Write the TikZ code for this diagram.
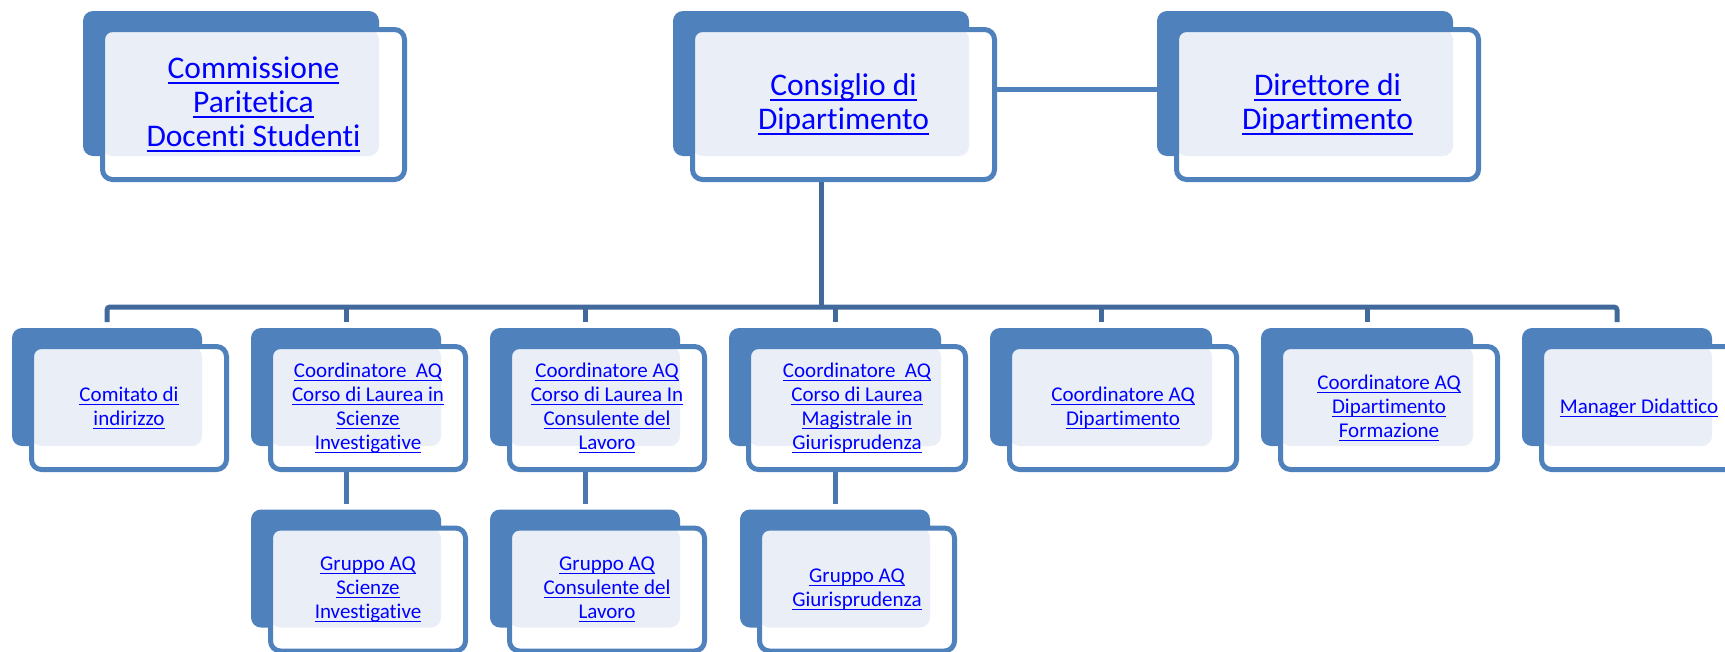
\documentclass[tikz,border=0pt]{standalone}
\usepackage{fontspec}
\setmainfont{Carlito}[Ligatures=NoCommon]
\usetikzlibrary{calc}
\usetikzlibrary{positioning}
\usetikzlibrary{backgrounds}
\definecolor{boxblue}{HTML}{4F81BD}
\definecolor{paleblue}{HTML}{EAEFF7}
\definecolor{busblue}{HTML}{41699B}
\definecolor{subblue}{HTML}{4A78AE}
\definecolor{linkblue}{HTML}{0000FF}
\newcommand{\lk}[1]{\setbox0\hbox{#1}\rlap{\rule[-0.16em]{\wd0}{0.06em}}\box0}
\tikzset{
 backbox/.style={fill=boxblue, rounded corners=10pt, inner sep=0pt, outer sep=0pt},
 frontbox/.style={below right=16pt and 17pt of #1.north west, draw=boxblue, line width=5pt,
   fill=white, rounded corners=10pt, inner sep=0pt, align=center, text=linkblue,
   path picture={\fill[paleblue, rounded corners=10pt] (path picture bounding box.north west) rectangle (#1.south east);}},
 toptext/.style={font=\fontsize{31.5}{34}\selectfont},
 subtext/.style={font=\fontsize{21}{24}\selectfont},
 bus/.style={draw=busblue, line width=5pt},
 sub/.style={draw=subblue, line width=5pt},
 link/.style={draw=boxblue, line width=5pt}
}
\begin{document}
\begin{tikzpicture}[x=1pt, y=-1pt]
\useasboundingbox (0,0) rectangle (1725,651);
% top row
\node[backbox, minimum width=296pt, minimum height=145pt] (comm) at (231,83.5) {};
\node[frontbox=comm, minimum width=302pt, minimum height=150pt, toptext] (comm-f)
  {\lk{Commissione}\\\lk{Paritetica}\\\lk{Docenti Studenti}};
\node[backbox, minimum width=296pt, minimum height=145pt] (cons) at (821,83.5) {};
\node[frontbox=cons, minimum width=302pt, minimum height=150pt, toptext] (cons-f)
  {\lk{Consiglio di}\\\lk{Dipartimento}};
\node[backbox, minimum width=296pt, minimum height=145pt] (dir) at (1305,83.5) {};
\node[frontbox=dir, minimum width=302pt, minimum height=150pt, toptext] (dir-f)
  {\lk{Direttore di}\\\lk{Dipartimento}};
% middle row
\node[backbox, minimum width=190pt, minimum height=118pt] (comit) at (107,387) {};
\node[frontbox=comit, minimum width=195pt, minimum height=123pt, subtext] (comit-f)
  {\lk{Comitato di}\\\lk{indirizzo}};
\node[backbox, minimum width=190pt, minimum height=118pt] (cscie) at (346,387) {};
\node[frontbox=cscie, minimum width=195pt, minimum height=123pt, subtext] (cscie-f)
  {\lk{Coordinatore~~AQ}\\\lk{Corso di Laurea in}\\\lk{Scienze}\\\lk{Investigative}};
\node[backbox, minimum width=190pt, minimum height=118pt] (ccons) at (585,387) {};
\node[frontbox=ccons, minimum width=195pt, minimum height=123pt, subtext] (ccons-f)
  {\lk{Coordinatore AQ}\\\lk{Corso di Laurea In}\\\lk{Consulente del}\\\lk{Lavoro}};
\node[backbox, minimum width=212pt, minimum height=118pt] (cgiur) at (835,387) {};
\node[frontbox=cgiur, minimum width=217pt, minimum height=123pt, subtext] (cgiur-f)
  {\lk{Coordinatore~~AQ}\\\lk{Corso di Laurea}\\\lk{Magistrale in}\\\lk{Giurisprudenza}};
\node[backbox, minimum width=222pt, minimum height=118pt] (cdip) at (1101,387) {};
\node[frontbox=cdip, minimum width=227pt, minimum height=123pt, subtext] (cdip-f)
  {\lk{Coordinatore AQ}\\\lk{Dipartimento}};
\node[backbox, minimum width=212pt, minimum height=118pt] (cform) at (1367,387) {};
\node[frontbox=cform, minimum width=217pt, minimum height=123pt, subtext] (cform-f)
  {\lk{Coordinatore AQ}\\\lk{Dipartimento}\\\lk{Formazione}};
\node[backbox, minimum width=190pt, minimum height=118pt] (manag) at (1617,387) {};
\node[frontbox=manag, minimum width=195pt, minimum height=123pt, subtext] (manag-f)
  {\lk{Manager Didattico}};
% bottom row
\node[backbox, minimum width=190pt, minimum height=118pt] (gscie) at (346,568.5) {};
\node[frontbox=gscie, minimum width=195pt, minimum height=123pt, subtext] (gscie-f)
  {\lk{Gruppo AQ}\\\lk{Scienze}\\\lk{Investigative}};
\node[backbox, minimum width=190pt, minimum height=118pt] (gcons) at (585,568.5) {};
\node[frontbox=gcons, minimum width=195pt, minimum height=123pt, subtext] (gcons-f)
  {\lk{Gruppo AQ}\\\lk{Consulente del}\\\lk{Lavoro}};
\node[backbox, minimum width=190pt, minimum height=118pt] (ggiur) at (835,568.5) {};
\node[frontbox=ggiur, minimum width=195pt, minimum height=123pt, subtext] (ggiur-f)
  {\lk{Gruppo AQ}\\\lk{Giurisprudenza}};
% connectors
\begin{scope}[on background layer]
\coordinate (bus) at (821,307);
\draw[link] ([yshift=-6pt]cons.east) -- ([yshift=-6pt]dir.west);
\draw[bus] (cons.south) -- (bus);
\draw[bus, rounded corners=3pt, shorten <=6pt, shorten >=6pt] (comit.north) |- (bus) -| (manag.north);
\foreach \n in {cscie,ccons,cgiur,cdip,cform}
 \draw[bus, shorten >=6pt] (bus -| \n.north) -- (\n.north);
\foreach \a/\b in {cscie/gscie,ccons/gcons,cgiur/ggiur}
 \draw[sub, shorten >=6pt] (\a.south) -- (\b.north);
\end{scope}
\end{tikzpicture}
\end{document}
